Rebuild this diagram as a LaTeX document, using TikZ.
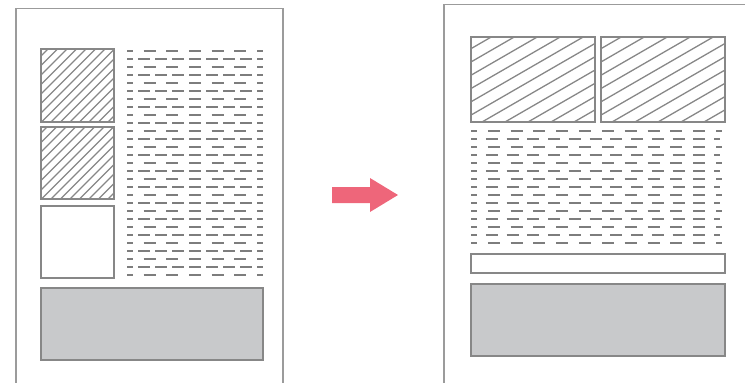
\documentclass[tikz,border=0pt]{standalone}
\usetikzlibrary{calc}
\definecolor{pageline}{RGB}{155,155,155}
\definecolor{boxline}{RGB}{135,135,135}
\definecolor{dashcol}{RGB}{125,125,125}
\definecolor{greyfill}{RGB}{200,201,203}
\definecolor{arrowred}{RGB}{238,102,122}
\tikzset{
  pageborder/.style={draw=pageline, line width=1.6pt},
  boxborder/.style={draw=boxline, line width=1.5pt},
  hatchline/.style={draw=boxline, line width=1.3pt},
  textrowA/.style={draw=dashcol, line width=2.3pt, dash pattern=on 12pt off 10.67pt, dash phase=6pt},
  textrowB/.style={draw=dashcol, line width=2.3pt, dash pattern=on 12pt off 5pt, dash phase=6pt},
  textrowRA/.style={draw=dashcol, line width=2.3pt, dash pattern=on 12pt off 10.82pt, dash phase=6pt},
  textrowRB/.style={draw=dashcol, line width=2.3pt, dash pattern=on 12pt off 8.75pt, dash phase=6pt},
}
\begin{document}
\begin{tikzpicture}[x=1pt,y=-1pt]
\useasboundingbox (0,0) rectangle (745,383);

% ---------- left page ----------
\draw[pageborder] (16,384) -- (16,8.5) -- (283,8.5) -- (283,384);

% hatched boxes (left)
\foreach \ya/\yb in {49/122, 127/199}{
  \begin{scope}
    \clip (41,\ya) rectangle (114,\yb);
    \foreach \t in {-85,-75.5,...,80}{
      \draw[hatchline] (41+\t,\yb) -- ++(90,-90);
    }
  \end{scope}
  \draw[boxborder] (41,\ya) rectangle (114,\yb);
}
% white box
\draw[boxborder, fill=white] (41,206) rectangle (114,278);
% grey box
\draw[boxborder, fill=greyfill] (41,288) rectangle (263,360);

% text rows (left)
\foreach \i in {0,...,28}{
  \pgfmathsetmacro{\yy}{51+8*\i}
  \ifodd\i
    \draw[textrowB] (127,\yy) -- (263,\yy);
  \else
    \draw[textrowA] (127,\yy) -- (263,\yy);
  \fi
}

% ---------- arrow ----------
\fill[arrowred] (332,187) -- (370,187) -- (370,178) -- (398,195) -- (370,212) -- (370,203) -- (332,203) -- cycle;

% ---------- right page ----------
\draw[pageborder] (444,384) -- (444,4.5) -- (746,4.5);

% hatched boxes (right)
\foreach \xa/\xb in {471/595, 601/725}{
  \begin{scope}
    \clip (\xa,37) rectangle (\xb,122);
    \foreach \t in {-150,-127,...,130}{
      \draw[hatchline] (\xa+\t,122) -- ++(190,-109.7);
    }
  \end{scope}
  \draw[boxborder] (\xa,37) rectangle (\xb,122);
}

% text rows (right)
\foreach \i in {0,...,14}{
  \pgfmathsetmacro{\yy}{131+8*\i}
  \ifodd\i
    \draw[textrowRB] (471,\yy) -- (720,\yy);
  \else
    \draw[textrowRA] (471,\yy) -- (722,\yy);
  \fi
}

% white bar
\draw[boxborder, fill=white] (471,254) rectangle (725,273);
% grey box
\draw[boxborder, fill=greyfill] (471,284) rectangle (725,356);
\end{tikzpicture}
\end{document}
